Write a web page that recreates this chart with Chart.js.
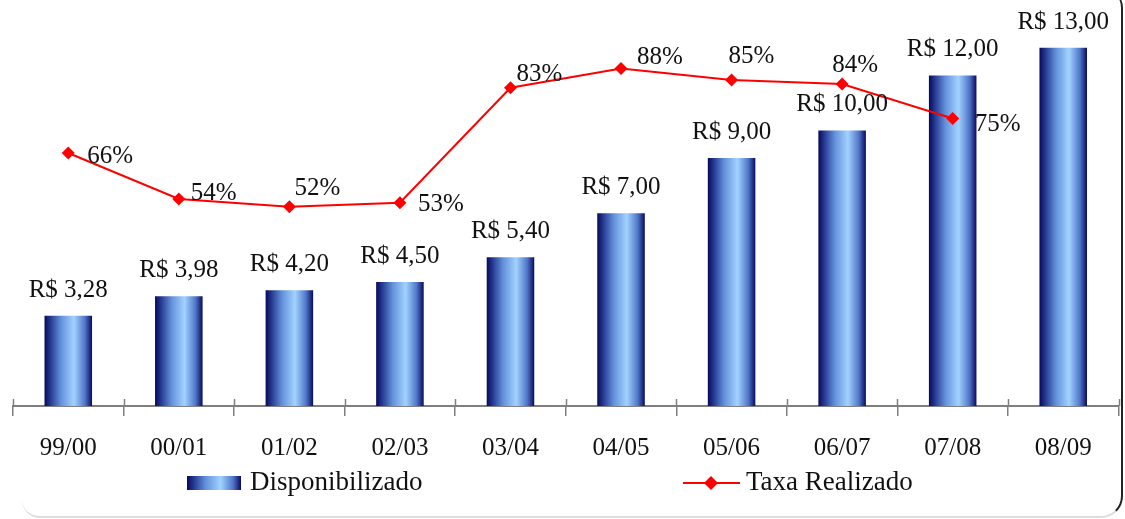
<!DOCTYPE html>
<html>
<head>
<meta charset="utf-8">
<script src="https://cdn.jsdelivr.net/npm/chart.js@4.4.1/dist/chart.umd.min.js"></script>
<style>
  html, body { margin: 0; padding: 0; background: #fff; }
  #wrap { position: relative; width: 1125px; height: 519px; overflow: hidden; }
  #frame {
    position: absolute; left: 22px; top: -12px; width: 1101px; height: 530px;
    box-sizing: border-box;
    border-right: 2px solid #222; border-bottom: 2px solid #ddd;
    border-top-right-radius: 20px; border-bottom-right-radius: 22px; border-bottom-left-radius: 18px;
  }
  canvas { position: absolute; left: 0; top: 0; }
</style>
</head>
<body>
<div id="wrap">
  <div id="frame"></div>
  <canvas id="chart" width="1125" height="519"></canvas>
</div>
<script>
// data
const categories = ['99/00', '00/01', '01/02', '02/03', '03/04', '04/05', '05/06', '06/07', '07/08', '08/09'];
const disponibilizado = [3.28, 3.98, 4.20, 4.50, 5.40, 7.00, 9.00, 10.00, 12.00, 13.00];
const taxaRealizado = [66, 54, 52, 53, 83, 88, 85, 84, 75, null];
const seriesNames = ['Disponibilizado', 'Taxa Realizado'];

// style
const FONT = "'Liberation Serif', 'Times New Roman', serif";
const BAR_PCT = 0.43;
// where each % label sits relative to its point (left edge dx, middle dy)
const pctLabelOffset = [[19, 3], [12, -6], [5, -18], [18, 2], [6, -13], [16, -11], [-3, -24], [-10, -19], [22, 6]];

function fillGradient(ctx, x0, x1) {
  const g = ctx.createLinearGradient(x0, 0, x1, 0);
  g.addColorStop(0, '#08085a');
  g.addColorStop(0.12, '#24378f');
  g.addColorStop(0.35, '#6492dc');
  g.addColorStop(0.62, '#a2d2ff');
  g.addColorStop(0.85, '#5077c8');
  g.addColorStop(1, '#0a0a60');
  return g;
}

function barGradient(c) {
  const chart = c.chart;
  const xs = chart.scales.x;
  if (!xs || !chart.chartArea || c.dataIndex === undefined) return '#3a5cb0';
  const cx = xs.getPixelForValue(c.dataIndex);
  const w = xs.width / categories.length * BAR_PCT;
  return fillGradient(chart.ctx, cx - w / 2, cx + w / 2);
}

const fmtMoney = v => 'R$ ' + v.toFixed(2).replace('.', ',');

const labelsPlugin = {
  id: 'valueLabels',
  afterDatasetsDraw(chart) {
    const ctx = chart.ctx;
    ctx.save();
    ctx.font = '25px ' + FONT;
    ctx.fillStyle = '#111';
    // bar labels
    const bars = chart.getDatasetMeta(0).data;
    ctx.textAlign = 'center';
    ctx.textBaseline = 'alphabetic';
    bars.forEach((b, i) => {
      ctx.fillText(fmtMoney(disponibilizado[i]), b.x, b.y - 19);
    });
    // line labels
    const pts = chart.getDatasetMeta(1).data;
    ctx.textAlign = 'left';
    ctx.textBaseline = 'middle';
    pts.forEach((p, i) => {
      if (taxaRealizado[i] == null) return;
      const o = pctLabelOffset[i] || [12, -10];
      ctx.fillText(taxaRealizado[i] + '%', p.x + o[0], p.y + o[1]);
    });
    ctx.restore();
  },
  afterDraw(chart) {
    const ctx = chart.ctx;
    const xs = chart.scales.x;
    const bottom = chart.chartArea.bottom;
    ctx.save();
    // upper half of the axis ticks
    ctx.strokeStyle = '#7f7f7f';
    ctx.lineWidth = 1.5;
    for (let i = 0; i <= categories.length; i++) {
      const x = Math.round(xs.left + i * xs.width / categories.length) + 0.5;
      ctx.beginPath();
      ctx.moveTo(x, bottom - 7);
      ctx.lineTo(x, bottom);
      ctx.stroke();
    }
    // legend
    const ly = 483;
    ctx.fillStyle = fillGradient(ctx, 187, 241);
    ctx.fillRect(187, ly - 7, 54, 14);
    ctx.strokeStyle = '#ff0000';
    ctx.lineWidth = 2;
    ctx.beginPath();
    ctx.moveTo(683, ly);
    ctx.lineTo(740, ly);
    ctx.stroke();
    ctx.fillStyle = '#ff0000';
    ctx.beginPath();
    ctx.moveTo(711 - 7, ly);
    ctx.lineTo(711, ly - 7);
    ctx.lineTo(711 + 7, ly);
    ctx.lineTo(711, ly + 7);
    ctx.closePath();
    ctx.fill();
    ctx.font = '27px ' + FONT;
    ctx.fillStyle = '#111';
    ctx.textAlign = 'left';
    ctx.textBaseline = 'middle';
    ctx.fillText(seriesNames[0], 250, ly);
    ctx.fillText(seriesNames[1], 746, ly);
    ctx.restore();
  }
};

new Chart(document.getElementById('chart'), {
  data: {
    labels: categories,
    datasets: [
      {
        type: 'bar',
        label: seriesNames[0],
        data: disponibilizado,
        yAxisID: 'y',
        backgroundColor: barGradient,
        borderWidth: 0,
        categoryPercentage: 1,
        barPercentage: BAR_PCT,
        order: 2
      },
      {
        type: 'line',
        label: seriesNames[1],
        data: taxaRealizado,
        yAxisID: 'y2',
        borderColor: '#ff0000',
        backgroundColor: '#ff0000',
        borderWidth: 2,
        tension: 0,
        pointStyle: 'rectRot',
        pointRadius: 6.5,
        pointBorderWidth: 0,
        pointBackgroundColor: '#ff0000',
        order: 1
      }
    ]
  },
  options: {
    responsive: false,
    animation: false,
    layout: { padding: { left: 13, right: 3, top: 5, bottom: 39 } },
    plugins: { legend: { display: false }, tooltip: { enabled: false } },
    scales: {
      x: {
        offset: true,
        grid: { offset: true, drawOnChartArea: false, drawTicks: true, tickLength: 10, color: '#7f7f7f', lineWidth: 1.5 },
        border: { display: true, color: '#7f7f7f', width: 2 },
        ticks: { color: '#111', font: { family: FONT, size: 25 }, padding: 17, maxRotation: 0 }
      },
      y: { display: false, min: 0, max: 14.5 },
      y2: { display: false, position: 'right', min: 0, max: 104.2 }
    }
  },
  plugins: [labelsPlugin]
});
</script>
</body>
</html>
